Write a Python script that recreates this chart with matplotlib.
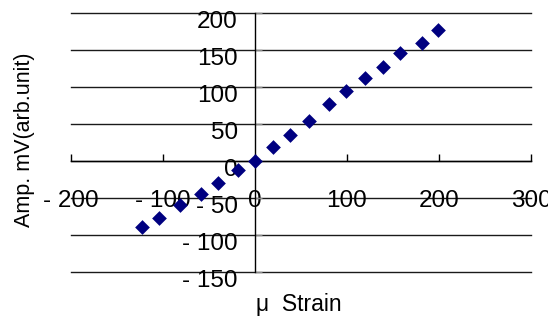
import matplotlib
matplotlib.use("Agg")
import matplotlib.pyplot as plt
import matplotlib.transforms as mtransforms
from matplotlib.ticker import FuncFormatter

plt.rcParams['font.family'] = ['Liberation Sans', 'DejaVu Sans']

strain = [-123, -104, -81, -59, -40, -19, 0, 20, 38, 59, 80, 99, 120, 139, 158, 182, 199]
amp = [-89, -77, -59, -44, -29, -12, 0, 20, 36, 54, 77, 95, 112, 128, 146, 160, 178]
x_ticks = [-200, -100, 0, 100, 200, 300]
y_ticks = [-150, -100, -50, 0, 50, 100, 150, 200]
x_label = "μ  Strain"
y_label = "Amp. mV(arb.unit)"

W, H = 548, 318
fig = plt.figure(figsize=(W / 100, H / 100), dpi=100)
left, right, top, bottom = 71, 531, 13.3, 272.3
ax = fig.add_axes([left / W, 1 - bottom / H, (right - left) / W, (bottom - top) / H])

ax.set_xlim(-200, 300)
ax.set_ylim(-150, 200)

for yv in y_ticks:
    ax.axhline(yv, color='#1a1a1a', lw=1.0, zorder=1, clip_on=False)

ax.scatter(strain, amp, marker='D', s=7.5 ** 2, color='#000080', zorder=3, linewidths=0)

for s in ['top', 'right']:
    ax.spines[s].set_visible(False)
ax.spines['left'].set_position(('data', 0))
ax.spines['bottom'].set_position(('data', 0))
for s in ['left', 'bottom']:
    ax.spines[s].set_color('black')
    ax.spines[s].set_linewidth(1.0)
    ax.spines[s].set_zorder(2)

def fmt(v, pos):
    v = int(round(v))
    return f"- {abs(v)}" if v < 0 else f"{v}"

ax.set_xticks(x_ticks)
ax.set_yticks(y_ticks)
ax.xaxis.set_major_formatter(FuncFormatter(fmt))
ax.yaxis.set_major_formatter(FuncFormatter(fmt))
ax.tick_params(axis='x', direction='in', length=5, width=1, pad=21, labelsize=17.5)
ax.tick_params(axis='y', direction='in', length=5, width=1, color='#888888', pad=12.5, labelsize=17.5)

offset = mtransforms.ScaledTranslation(0, -6.5 / 100, fig.dpi_scale_trans)
for lab in ax.get_yticklabels():
    lab.set_transform(lab.get_transform() + offset)

fig.text(25 / W, 1 - 140 / H, y_label, rotation=90, ha='center', va='center', fontsize=15.5)
fig.text(256 / W, 1 - 305 / H, x_label, ha='left', va='center', fontsize=16.5)

fig.savefig("out.png", dpi=100)
